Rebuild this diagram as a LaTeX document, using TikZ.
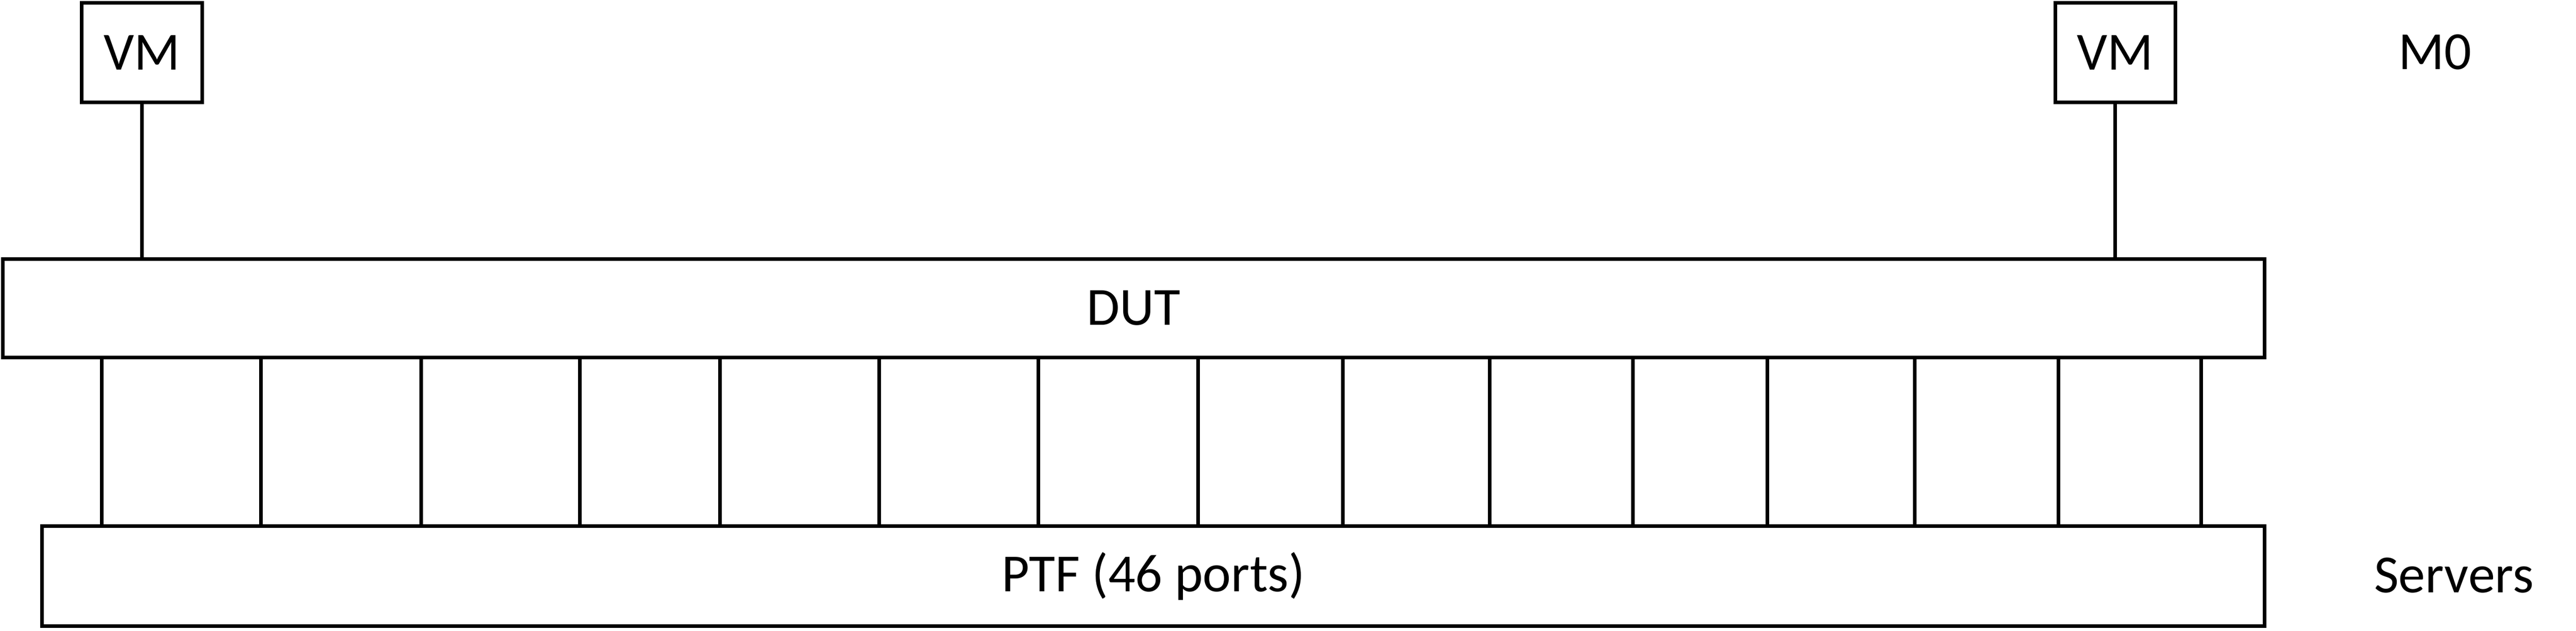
\documentclass[tikz,border=0pt]{standalone}
\usepackage{fontspec}
\setmainfont{Carlito}
\begin{document}
\begin{tikzpicture}
  [line width=2.2pt,every node/.style={font=\fontsize{33}{40}\selectfont,inner sep=0pt},
   box/.style={draw,rectangle}]
  \useasboundingbox (0,0) rectangle (55.69,13.63);
  \node (vm1)[box,minimum width=2.60cm,minimum height=2.15cm] at (3.07,12.49) {VM};
  \node (vm2)[box,minimum width=2.60cm,minimum height=2.15cm] at (45.73,12.49) {VM};
  \node (dut)[box,minimum width=48.90cm,minimum height=2.12cm] at (24.51,6.97) {DUT};
  \node (ptf)[box,minimum width=48.05cm,minimum height=2.16cm] at (24.935,1.18) {PTF (46 ports)};
  \node (m0) at (52.64,12.50) {M0};
  \node (servers) at (53.05,1.20) {Servers};

 \foreach \vmnode in {vm1,vm2}
    \draw (\vmnode.south) -- (\vmnode.south |- dut.north);

 \foreach \x in {2.20,5.64,9.10,12.54,15.56,19.01,22.45,25.90,29.03,32.20,35.30,38.21,41.39,44.50,47.59}
    \draw (dut.south -| \x,0) -- (ptf.north -| \x,0);

\end{tikzpicture}
\end{document}
